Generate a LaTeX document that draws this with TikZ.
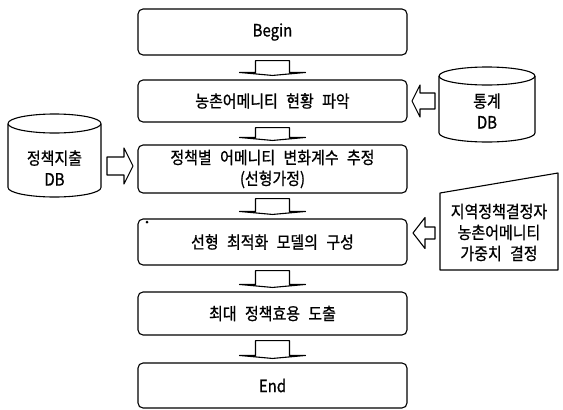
\documentclass[tikz,border=0pt]{standalone}
\usepackage{fontspec}
\setmainfont{Noto Sans CJK KR}[FakeStretch=0.88,FakeBold=0.8,WordSpace=2.5]
\usetikzlibrary{calc}
\newcommand\blockdown[2]{%
  \draw ($(#1.south)+(-17,5)$) -- ($(#1.south)+(17,5)$) -- ($(#2.north)+(17,-7)$)
    -- ($(#2.north)+(33,-7)$) -- ($(#2.north)+(0,-4)$) -- ($(#2.north)+(-33,-7)$)
    -- ($(#2.north)+(-17,-7)$) -- cycle;}
\newcommand\hblock[6]{%
  \draw (#3,{#4-#5}) -- (#2,{#4-#5}) -- (#2,{#4-#6}) -- (#1,#4) -- (#2,{#4+#6})
    -- (#2,{#4+#5}) -- (#3,{#4+#5}) -- cycle;}
\begin{document}
\begin{tikzpicture}[x=1pt,y=-1pt,line width=1.1pt,line join=round,
  box/.style={draw,rounded corners=5pt,minimum width=269pt,align=center,
    font=\fontsize{17}{21}\selectfont,inner sep=0pt},
  lbl/.style={align=center,font=\fontsize{17}{21}\selectfont,inner sep=0pt}]
\useasboundingbox (0,0) rectangle (563,410);
% main flow
\node[box,minimum height=46pt] (b1) at (272.5,32) {Begin};
\node[box,minimum height=42pt] (b2) at (272.5,101) {농촌어메니티 현황 파악};
\node[box,minimum height=48pt] (b3) at (272.5,169) {정책별 어메니티 변화계수 추정\\(선형가정)};
\node[box,minimum height=46pt] (b4) at (272.5,242) {선형 최적화 모델의 구성};
\node[box,minimum height=43pt] (b5) at (272.5,313.5) {최대 정책효용 도출};
\node[box,minimum height=45pt] (b6) at (272.5,385.5) {End};
\blockdown{b1}{b2}
\blockdown{b2}{b3}
\blockdown{b3}{b4}
\blockdown{b4}{b5}
\blockdown{b5}{b6}
% cylinder 1
\draw (54.5,123.5) ellipse [x radius=46.5pt,y radius=9.5pt];
\draw (8,123.5) -- (8,187.5) arc[start angle=180,end angle=360,x radius=46.5pt,y radius=9.5pt] -- (101,123.5);
\node[lbl] (db1) at (54.5,168) {정책지출\\DB};
% cylinder 2
\draw (487,76) ellipse [x radius=48pt,y radius=9pt];
\draw (439,76) -- (439,133) arc[start angle=180,end angle=360,x radius=48pt,y radius=9pt] -- (535,76);
\node[lbl] (db2) at (487,111) {통계\\DB};
% manual input
\draw (440,193) -- (558,173) -- (558,270) -- (440,270) -- cycle;
\node[lbl] (mi) at (499,232.5) {지역정책결정자\\농촌어메니티\\가중치 결정};
% side arrows
\hblock{133}{124}{107}{166}{9}{18}
\hblock{412}{420}{435}{101}{8}{16}
\hblock{413}{425}{435}{233}{6}{15.5}
\fill (147,222) circle (1.5pt);
\end{tikzpicture}
\end{document}
